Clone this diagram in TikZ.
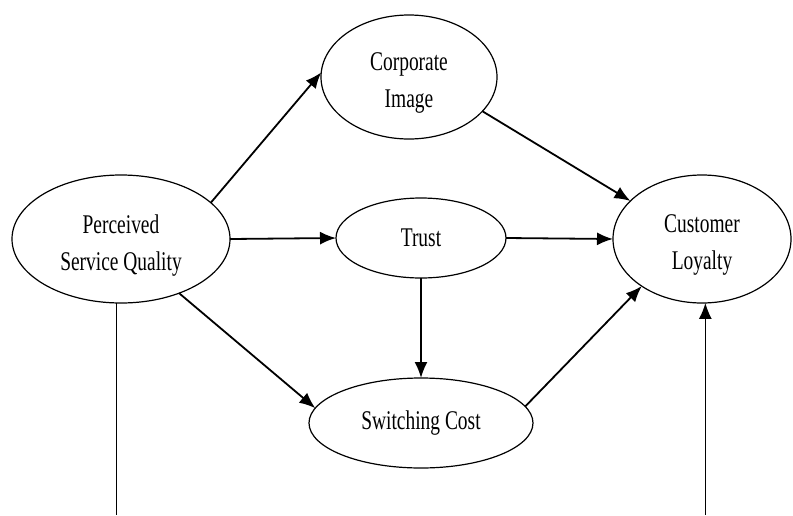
\documentclass[tikz,border=0pt]{standalone}
\usepackage{fontspec}
\setmainfont{Liberation Serif}[FakeStretch=0.72]
\usetikzlibrary{shapes.geometric,arrows.meta}
\begin{document}
\begin{tikzpicture}[x=1pt,y=-1pt,
  var/.style={ellipse,draw,line width=1.2pt,inner sep=0pt,outer sep=0pt,align=center,font=\fontsize{27}{36}\selectfont},
  txt/.style={align=center,font=\fontsize{27}{37}\selectfont,inner sep=0pt,yshift=-7pt},
  link/.style={line width=1.8pt,-{Latex[length=16pt,width=13pt]}}]
\useasboundingbox (0,0) rectangle (793,515);
\node[var,minimum width=218pt,minimum height=128pt,label={[txt]center:Perceived\\Service Quality}] (psq) at (121,239) {};
\node[var,minimum width=176pt,minimum height=124pt,label={[txt,yshift=1pt]center:Corporate\\Image}] (ci) at (409,77) {};
\node[var,minimum width=170pt,minimum height=80pt] (tr) at (421,238) {Trust};
\node[var,minimum width=224pt,minimum height=90pt] (sc) at (421,423) {Switching Cost};
\node[var,minimum width=178pt,minimum height=128pt,label={[txt,yshift=1pt]center:Customer\\Loyalty}] (cl) at (702,239) {};
\draw[link] (psq.22) -- (ci.177);
\draw[link] (psq.east) -- (tr.west);
\draw[link] (psq.-43) -- (sc.172);
\draw[link] (ci.-25) -- (cl.152);
\draw[link] (tr.east) -- (cl.west);
\draw[link] (tr.south) -- (sc.north);
\draw[link] (sc.9) -- (cl.218);
\coordinate (bot) at (400,515);
\draw[line width=1.3pt] (psq.-94) -- (psq.-94 |- bot);
\draw[link,line width=1.3pt] (cl.-87 |- bot) -- (cl.-87);
\end{tikzpicture}
\end{document}
